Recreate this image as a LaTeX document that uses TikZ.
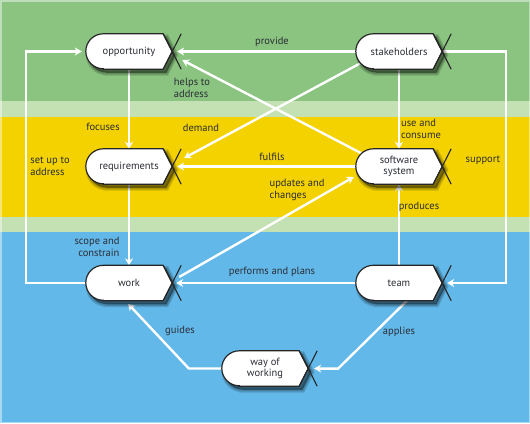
\documentclass[tikz,border=0pt]{standalone}
\usepackage{fontspec}
\setmainfont{PT Sans}
\usetikzlibrary{arrows.meta,calc}
\pgfdeclarelayer{bg}
\pgfdeclarelayer{arr}
\pgfdeclarelayer{shp}
\pgfsetlayers{bg,arr,shp,main}

\definecolor{bggreen}{HTML}{8AC480}
\definecolor{bglight}{HTML}{C3E1B2}
\definecolor{bgyellow}{HTML}{F3D200}
\definecolor{bgblue}{HTML}{62B8E8}
\definecolor{txt}{HTML}{2B2D36}

\tikzset{
  ebox/.style={minimum width=86pt, minimum height=35pt, inner sep=0pt, align=center,
    font=\fontsize{10.5}{11.5}\selectfont, text=txt},
  eboxshape/.style={fill=white, draw=black!85, line width=1.2pt},
  eshadow/.style={fill=black, draw=black, opacity=0.15,
    transform canvas={shift={(3pt,-3.5pt)}}},
  etail/.style={draw=black!85, line width=1.1pt},
  flow/.style={draw=white, line width=2.4pt, -{Stealth[length=7pt,width=8pt]}},
  lbl/.style={font=\fontsize{10.5}{12}\selectfont, text=txt, inner sep=0pt},
}

\newcommand\eshapepath[1]{([xshift=17.5pt]#1.south west) -- ([xshift=-9pt]#1.south east) -- (#1.east)
    -- ([xshift=-9pt]#1.north east) -- ([xshift=17.5pt]#1.north west)
    arc[start angle=90, end angle=270, radius=17.5pt] -- cycle}

\newcommand\drawebox[1]{%
  \begin{pgfonlayer}{shp}
  \path[eshadow, line width=6pt] \eshapepath{#1};
  \path[eshadow, line width=3.5pt] \eshapepath{#1};
  \path[eshadow, line width=1pt] \eshapepath{#1};
  \path[eboxshape] \eshapepath{#1};
  \draw[etail] ([xshift=-9pt]#1.north east) -- ([xshift=9pt]#1.south east)
    ([xshift=-9pt]#1.south east) -- ([xshift=9pt]#1.north east);
  \end{pgfonlayer}}

\begin{document}
\begin{tikzpicture}[x=1pt,y=-1pt]
\useasboundingbox (0,0) rectangle (530,423);
\begin{pgfonlayer}{bg}
  \fill[bggreen] (0,0) rectangle (530,101);
  \fill[bglight] (0,101) rectangle (530,117);
  \fill[bgyellow] (0,117) rectangle (530,217);
  \fill[bglight] (0,217) rectangle (530,232);
  \fill[bgblue] (0,232) rectangle (530,423);
  \draw[white, opacity=0.45, line width=1.5pt] (0.75,0.75) rectangle (529.25,422.25);
\end{pgfonlayer}

\node[ebox] (opp) at (129,51.5) {opportunity};
\node[ebox] (stake) at (399,51.5) {stakeholders};
\node[ebox] (req) at (129,166.5) {requirements};
\node[ebox] (soft) at (399,166.5) {software\\system};
\node[ebox] (work) at (129,283) {work};
\node[ebox] (team) at (399,283) {team};
\node[ebox] (way) at (265,368.5) {way of\\working};

\drawebox{opp}
\drawebox{stake}
\drawebox{req}
\drawebox{soft}
\drawebox{work}
\drawebox{team}
\drawebox{way}

\begin{pgfonlayer}{arr}
  \draw[flow] (stake.west) -- ([xshift=5pt]opp.east);
  \draw[flow] ([xshift=6pt,yshift=13pt]soft.west) -- ([xshift=10pt,yshift=-8.5pt]opp.east);
  \draw[flow] ([xshift=6pt,yshift=-11pt]stake.west) -- ([xshift=12pt,yshift=8.5pt]req.east);
  \draw[flow] (soft.west) -- ([xshift=5pt]req.east);
  \draw[flow] (opp.south) -- (req.north);
  \draw[flow] (req.south) -- (work.north);
  \draw[flow] ([xshift=7pt,yshift=6pt]work.east) -- ([xshift=-2pt,yshift=-10.5pt]soft.west);
  \draw[flow] (team.west) -- ([xshift=4pt]work.east);
  \draw[flow] (team.north) -- (soft.south);
  \draw[flow] (stake.south) -- (soft.north);
  \draw[flow] (stake.east) -- ++(64,0) |- ([xshift=5pt]team.east);
  \draw[flow] (work.west) -- ++(-60,0) |- ([xshift=-4pt]opp.west);
  \draw[flow] (way.west) -- ++(-33,0) -- ([xshift=-1pt,yshift=-3pt]work.south);
  \draw[flow] ([xshift=8pt]team.south) -- ++(-69,68) -- ([xshift=6pt]way.east);
\end{pgfonlayer}

\node[lbl] (lprov) at (272,42) {provide};
\node[lbl, align=left] (lhelp) at (192,88) {helps to\\address};
\node[lbl] (lfoc) at (103,127) {focuses};
\node[lbl] (ldem) at (201,128) {demand};
\node[lbl, align=left] (luse) at (421,129) {use and\\consume};
\node[lbl, align=left] (lset) at (50,166) {set up to\\address};
\node[lbl] (lful) at (272,157) {fulfils};
\node[lbl] (lsup) at (483,160) {support};
\node[lbl, align=left] (lupd) at (297,190) {updates and\\changes};
\node[lbl] (lprod) at (419,207) {produces};
\node[lbl, align=right] (lscope) at (97,247) {scope and\\constrain};
\node[lbl] (lperf) at (272,272) {performs and plans};
\node[lbl] (lguid) at (180,331) {guides};
\node[lbl] (lapp) at (399,332) {applies};
\end{tikzpicture}
\end{document}
